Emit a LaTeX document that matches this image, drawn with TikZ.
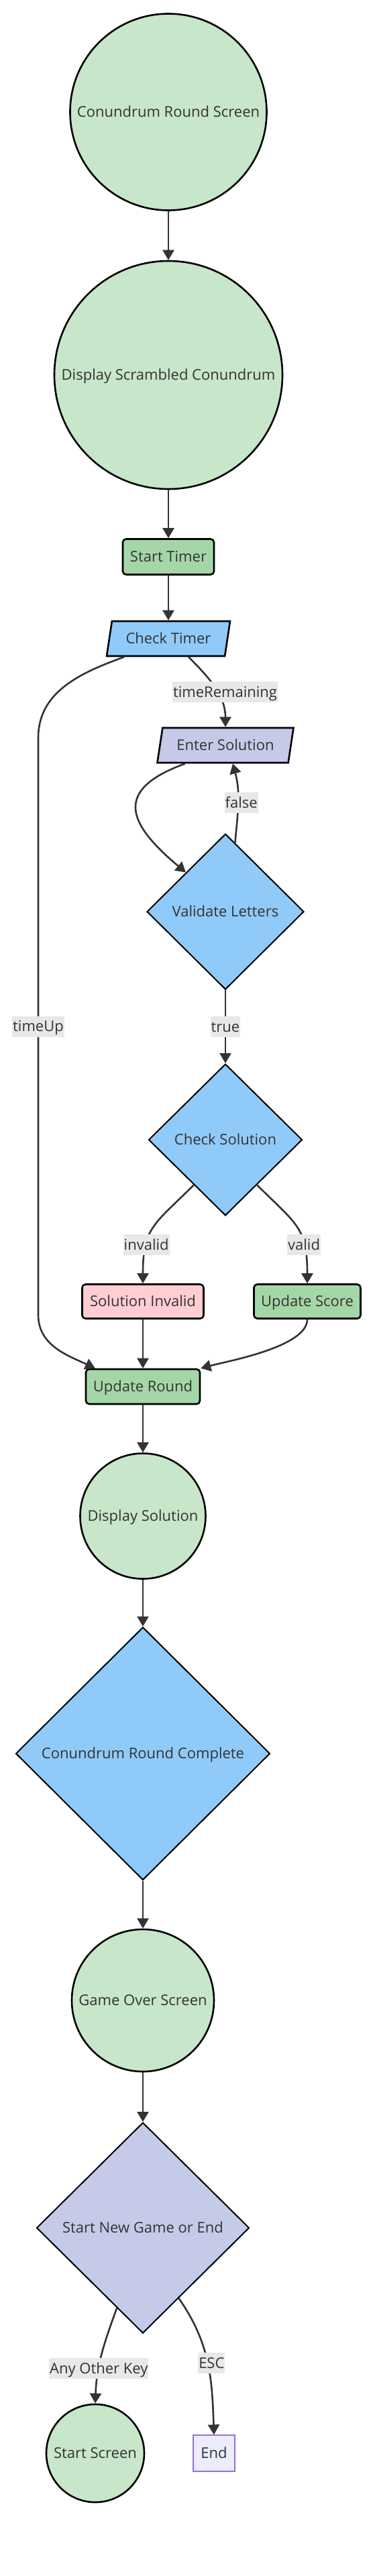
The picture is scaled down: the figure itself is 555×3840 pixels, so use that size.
\documentclass[tikz,border=0pt]{standalone}
\usepackage{fontspec}
\setmainfont{Open Sans}
\usetikzlibrary{shapes.geometric, arrows.meta}

\definecolor{screenfill}{HTML}{C8E6C9}
\definecolor{actionfill}{HTML}{A5D6A7}
\definecolor{checkfill}{HTML}{90CAF9}
\definecolor{inputfill}{HTML}{C5CAE9}
\definecolor{errorfill}{HTML}{FFCDD2}
\definecolor{endfill}{HTML}{ECECFF}
\definecolor{endline}{HTML}{9370DB}
\definecolor{edgegray}{HTML}{333333}
\definecolor{labelbg}{HTML}{E8E8E8}

\begin{document}
\begin{tikzpicture}[x=1pt, y=1pt,
    every node/.style={font=\fontsize{22}{26}\selectfont, text=edgegray, text height=15.7pt, text depth=0pt},
    screen/.style={circle, draw=black, line width=2.6pt, fill=screenfill, inner sep=0pt},
    action/.style={rectangle, rounded corners=5pt, draw=black, line width=2.6pt, fill=actionfill, inner sep=0pt},
    decision/.style={diamond, draw=black, line width=2pt, fill=checkfill, inner sep=0pt},
    slanted/.style={trapezium, trapezium left angle=63.4, trapezium right angle=116.6, trapezium stretches body,
      draw=black, line width=2.6pt, fill=checkfill, inner sep=0pt, minimum height=52pt},
    arr/.style={-{Triangle[length=15pt,width=17pt]}, draw=edgegray, line width=2.6pt},
    lbl/.style={fill=labelbg, inner xsep=1pt, inner ysep=0pt, minimum height=31pt}
  ]
    \useasboundingbox (0,0) rectangle (555,-3840);

    % Nodes
    \node[screen, minimum size=293pt] (crs) at (251,-167) {Conundrum Round Screen};
    \node[screen, minimum size=340pt] (dsc) at (251,-559) {Display Scrambled Conundrum};
    \node[action, minimum width=136pt, minimum height=53pt] (st) at (251,-830) {Start Timer};
    \node[slanted, minimum width=184pt] (ct) at (251,-952) {Check Timer};
    \node[slanted, fill=inputfill, minimum width=203pt] (esol) at (336,-1111) {Enter Solution};
    \node[decision, minimum width=234pt, minimum height=232pt] (vl) at (336,-1359) {Validate Letters};
    \node[decision, minimum width=229pt, minimum height=226pt] (cs) at (336,-1699) {Check Solution};
    \node[action, fill=errorfill, minimum width=181pt, minimum height=51pt] (si) at (213,-1940) {Solution Invalid};
    \node[action, minimum width=159pt, minimum height=51pt] (us) at (458,-1940) {Update Score};
    \node[action, minimum width=170pt, minimum height=52pt] (ur) at (213,-2067) {Update Round};
    \node[screen, minimum size=187pt] (ds) at (213,-2260) {Display Solution};
    \node[decision, minimum width=379pt, minimum height=377pt] (crc) at (213,-2614) {Conundrum Round Complete};
    \node[screen, minimum size=212pt] (go) at (213,-2982) {Game Over Screen};
    \node[decision, fill=inputfill, minimum width=317pt, minimum height=314pt] (sng) at (213,-3321) {Start New Game or End};
    \node[screen, minimum size=146pt] (ss) at (142,-3657) {Start Screen};
    \node[draw=endline, line width=1.3pt, fill=endfill, minimum width=62pt, minimum height=54pt, inner sep=0pt] (finish) at (319,-3657) {End};

    % Bends of the timeUp line
    \coordinate (upbend) at (57,-1100);
    \coordinate (downbend) at (57,-1960);

    % Straight connectors
    \foreach \a/\b in {crs/dsc, dsc/st, st/ct, si/ur, ur/ds, ds/crc, crc/go, go/sng} {
      \draw[arr] (\a) -- (\b);
    }

    % Timer branches
    \draw[arr] ([xshift=30pt]ct.south) to[out=-45,in=90] node[lbl, pos=0.55, xshift=12pt] {timeRemaining} (esol.north);
    \draw[arr] ([xshift=-66pt]ct.south) to[out=200,in=90] (upbend) -- node[lbl] {timeUp} (downbend) to[out=-90,in=155] ([xshift=-71pt]ur.north);

    % Letter check loop
    \draw[arr] ([xshift=-60pt]esol.south) to[out=200,in=140,looseness=1.8] (vl.north west);
    \draw[arr] (vl.82) to[out=85,in=-75] node[lbl, xshift=5pt] {false} ([xshift=11pt]esol.south);
    \draw[arr] (vl) -- node[lbl] {true} (cs);

    % Solution branches
    \draw[arr] (cs.235) to[out=225,in=90,looseness=1.3] node[lbl, pos=0.7] {invalid} (si.north);
    \draw[arr] (cs.-55) to[out=-45,in=90,looseness=1.3] node[lbl, pos=0.7] {valid} (us.north);
    \draw[arr] (us.south) to[out=-90,in=15,looseness=0.6] (ur.north east);

    % Game end
    \draw[arr] (sng.252) to[out=250,in=88] node[lbl, pos=0.65] {Any Other Key} (ss.north);
    \draw[arr] (sng.-63) to[out=-55,in=92] node[lbl, pos=0.5, xshift=6pt] {ESC} (finish.north);
\end{tikzpicture}
\end{document}
